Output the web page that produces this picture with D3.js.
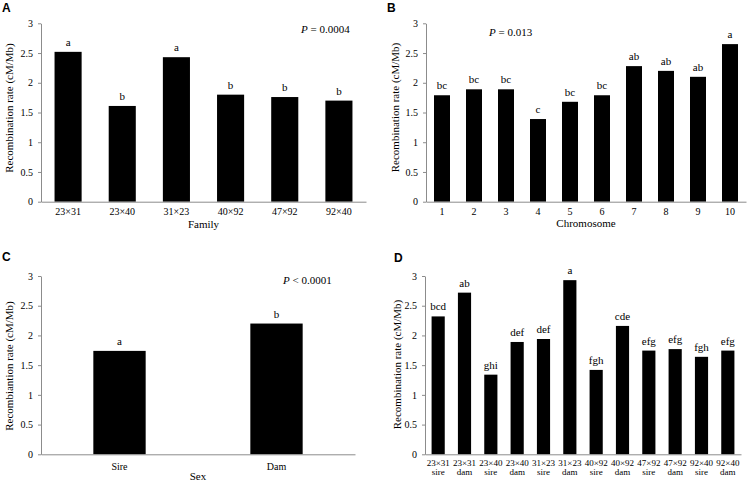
<!DOCTYPE html>
<html>
<head>
<meta charset="utf-8">
<script src="https://cdn.jsdelivr.net/npm/d3@7"></script>
<style>
  html, body { margin: 0; padding: 0; background: #fff; }
  svg { display: block; }
  text { font-family: "Liberation Serif", "Times New Roman", serif; fill: #000; }
  .plabel { font-family: "Liberation Sans", Arial, sans-serif; font-weight: bold; font-size: 12px; }
</style>
</head>
<body>
<svg id="chart" width="748" height="482"></svg>
<script>
// ---------- data ----------
const yTickValues = [0, 0.5, 1, 1.5, 2, 2.5, 3];

const familyCategories = ["23×31", "23×40", "31×23", "40×92", "47×92", "92×40"];
const familyRates      = [2.52, 1.61, 2.43, 1.80, 1.76, 1.70];
const familyLetters    = ["a", "b", "a", "b", "b", "b"];

const chromosomeCategories = ["1", "2", "3", "4", "5", "6", "7", "8", "9", "10"];
const chromosomeRates      = [1.79, 1.89, 1.89, 1.39, 1.68, 1.79, 2.28, 2.20, 2.10, 2.65];
const chromosomeLetters    = ["bc", "bc", "bc", "c", "bc", "bc", "ab", "ab", "ab", "a"];

const sexCategories = ["Sire", "Dam"];
const sexRates      = [1.74, 2.20];
const sexLetters    = ["a", "b"];

const familySexCategories = ["23×31|sire", "23×31|dam", "23×40|sire", "23×40|dam", "31×23|sire", "31×23|dam",
                             "40×92|sire", "40×92|dam", "47×92|sire", "47×92|dam", "92×40|sire", "92×40|dam"];
const familySexRates      = [2.32, 2.72, 1.34, 1.89, 1.94, 2.93, 1.42, 2.16, 1.745, 1.77, 1.64, 1.745];
const familySexLetters    = ["bcd", "ab", "ghi", "def", "def", "a", "fgh", "cde", "efg", "efg", "fgh", "efg"];

// ---------- drawing ----------
const svg = d3.select("#chart");
const axisColor = "#8c8c8c";

function drawPanel(cfg) {
  const g = svg.append("g");
  const x = d3.scaleBand()
    .domain(cfg.categories)
    .range([cfg.x0, cfg.x1])
    .paddingInner(1 - cfg.frac)
    .paddingOuter((1 - cfg.frac) / 2);
  const y = d3.scaleLinear().domain([0, 3]).range([cfg.yBot, cfg.yTop]);

  // bars
  g.selectAll("rect.bar").data(cfg.categories).join("rect")
    .attr("class", "bar")
    .attr("x", d => x(d))
    .attr("width", x.bandwidth())
    .attr("y", (d, i) => y(cfg.values[i]))
    .attr("height", (d, i) => y(0) - y(cfg.values[i]))
    .attr("fill", "#000");

  // letters above bars
  g.selectAll("text.sig").data(cfg.categories).join("text")
    .attr("class", "sig")
    .attr("x", d => x(d) + x.bandwidth() / 2)
    .attr("y", (d, i) => y(cfg.values[i]) - 6)
    .attr("text-anchor", "middle")
    .attr("font-size", 11)
    .text((d, i) => cfg.letters[i]);

  // y axis
  const ya = g.append("g")
    .attr("transform", `translate(${cfg.x0},0)`)
    .call(d3.axisLeft(y).tickValues(yTickValues).tickFormat(d3.format("")).tickSizeInner(3).tickSizeOuter(0).tickPadding(5));
  ya.select(".domain").attr("stroke", axisColor);
  ya.selectAll(".tick line").attr("stroke", axisColor);
  ya.selectAll(".tick text").attr("font-size", 10).attr("font-family", "Liberation Serif").attr("fill", "#000");

  // x axis
  const xa = g.append("g")
    .attr("transform", `translate(0,${cfg.yBot})`)
    .call(d3.axisBottom(x).tickSize(0).tickSizeOuter(0).tickFormat(""));
  xa.select(".domain").attr("stroke", axisColor);
  xa.selectAll(".tick").each(function(d) {
    const t = d3.select(this).select("text")
      .attr("font-size", cfg.tickFont)
      .attr("font-family", "Liberation Serif")
      .attr("fill", "#000")
      .attr("dy", null)
      .attr("y", cfg.tickY);
    const parts = d.split("|");
    t.text(null);
    parts.forEach((p, k) => {
      t.append("tspan").attr("x", 0).attr("y", cfg.tickY + k * cfg.lineGap).text(p);
    });
  });

  // x title
  if (cfg.xTitle) {
    g.append("text")
      .attr("x", (cfg.x0 + cfg.x1) / 2)
      .attr("y", cfg.xTitleY)
      .attr("text-anchor", "middle")
      .attr("font-size", 11)
      .text(cfg.xTitle);
  }

  // y title
  g.append("text")
    .attr("transform", `translate(${cfg.yTitleX},${cfg.yTitleY}) rotate(-90)`)
    .attr("text-anchor", "middle")
    .attr("font-size", 11)
    .text(cfg.yTitle);

  // P value
  if (cfg.pText) {
    const pt = g.append("text")
      .attr("x", cfg.pX)
      .attr("y", cfg.pY)
      .attr("font-size", 11);
    pt.append("tspan").attr("font-style", "italic").text("P");
    pt.append("tspan").text(cfg.pText);
  }

  // panel label
  g.append("text")
    .attr("class", "plabel")
    .attr("x", cfg.labelX)
    .attr("y", cfg.labelY)
    .text(cfg.label);
}

drawPanel({
  categories: familyCategories, values: familyRates, letters: familyLetters,
  x0: 41, x1: 366, yTop: 23.3, yBot: 201.7, frac: 0.5,
  tickFont: 10, tickY: 13.5, lineGap: 0,
  xTitle: "Family", xTitleY: 227.5,
  yTitle: "Recombination rate (cM/Mb)", yTitleX: 13, yTitleY: 108,
  pText: " = 0.0004", pX: 301, pY: 33,
  label: "A", labelX: 2, labelY: 12
});

drawPanel({
  categories: chromosomeCategories, values: chromosomeRates, letters: chromosomeLetters,
  x0: 426, x1: 746, yTop: 23.3, yBot: 201.7, frac: 0.5,
  tickFont: 10, tickY: 13.5, lineGap: 0,
  xTitle: "Chromosome", xTitleY: 226.5,
  yTitle: "Recombination rate (cM/Mb)", yTitleX: 399, yTitleY: 107.5,
  pText: " = 0.013", pX: 489, pY: 36,
  label: "B", labelX: 387, labelY: 12
});

drawPanel({
  categories: sexCategories, values: sexRates, letters: sexLetters,
  x0: 41, x1: 355, yTop: 276, yBot: 454.3, frac: 1 / 3,
  tickFont: 10, tickY: 15.5, lineGap: 0,
  xTitle: "Sex", xTitleY: 479.5,
  yTitle: "Recombiantion rate (cM/Mb)", yTitleX: 12.5, yTitleY: 366,
  pText: " < 0.0001", pX: 283, pY: 284,
  label: "C", labelX: 2, labelY: 261
});

drawPanel({
  categories: familySexCategories, values: familySexRates, letters: familySexLetters,
  x0: 425, x1: 741, yTop: 276, yBot: 454.3, frac: 0.5,
  tickFont: 9, tickY: 11.5, lineGap: 9.5,
  xTitle: null,
  yTitle: "Recombination rate (cM/Mb)", yTitleX: 400.5, yTitleY: 364.5,
  pText: null,
  label: "D", labelX: 394, labelY: 262
});
</script>
</body>
</html>
